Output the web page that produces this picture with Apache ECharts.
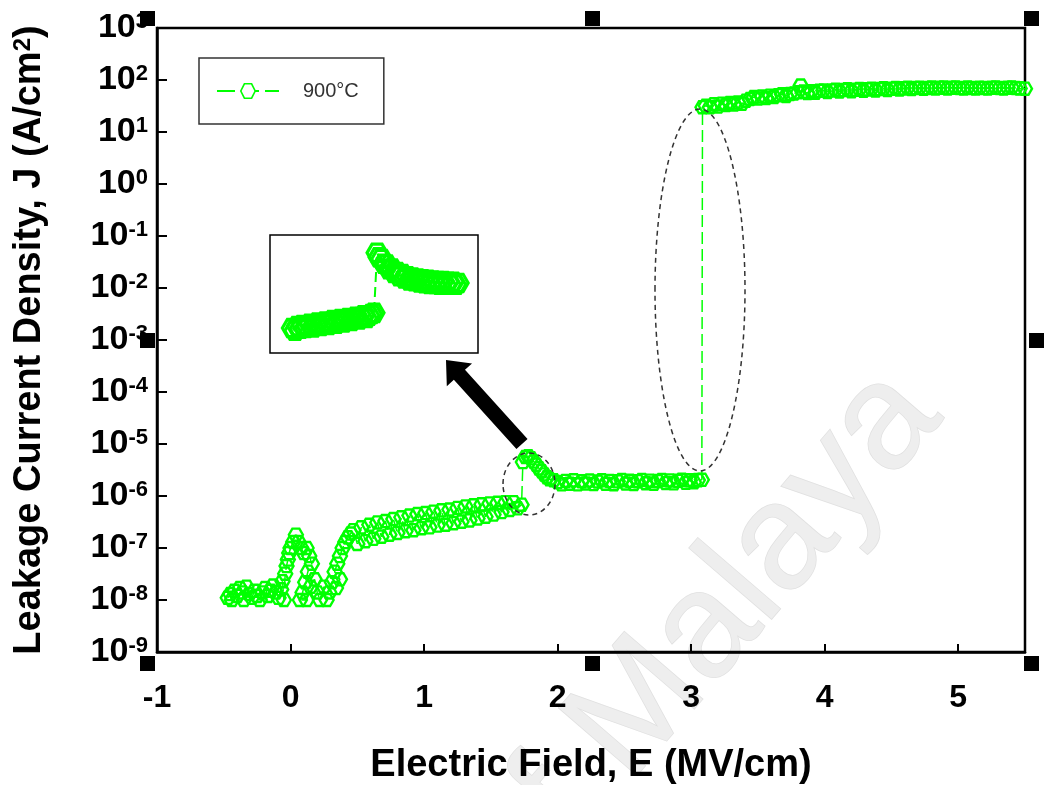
<!DOCTYPE html>
<html>
<head>
<meta charset="utf-8">
<script src="https://cdn.jsdelivr.net/npm/echarts@6/dist/echarts.min.js"></script>
<style>html,body{margin:0;padding:0;background:#fff}#chart{width:1049px;height:785px}</style>
</head>
<body>
<div id="chart"></div>
<script>
// J-E sweep, 900°C anneal. [E (MV/cm), J (A/cm^2)]
const lowCluster = [
  [-0.47,1.1e-8],[-0.45,1.3e-8],[-0.44,1.0e-8],[-0.42,1.5e-8],[-0.40,1.2e-8],[-0.38,1.7e-8],
  [-0.36,1.4e-8],[-0.35,1.0e-8],[-0.33,1.8e-8],[-0.31,1.3e-8],[-0.29,1.1e-8],[-0.27,1.5e-8],
  [-0.25,1.2e-8],[-0.23,1.0e-8],[-0.21,1.4e-8],[-0.19,1.7e-8],[-0.17,1.2e-8],[-0.15,1.5e-8],
  [-0.13,1.9e-8],[-0.11,1.4e-8],[-0.09,1.1e-8],[-0.07,1.6e-8],[-0.06,2.3e-8],[-0.05,1.0e-8],
  [-0.04,3.2e-8],[-0.03,4.5e-8],[-0.02,6.0e-8],[-0.01,8.0e-8],[0.00,1.0e-7],[0.02,1.3e-7],
  [0.04,1.8e-7],[0.06,1.3e-7],[0.08,1.0e-7],[0.10,8.0e-8],[0.12,1.0e-7],[0.14,7.0e-8],
  [0.16,5.0e-8],[0.13,3.5e-8],[0.11,2.2e-8],[0.09,1.4e-8],[0.07,1.0e-8],[0.12,1.0e-8],
  [0.15,1.8e-8],[0.18,2.5e-8],[0.20,1.4e-8],[0.22,1.0e-8],[0.25,1.8e-8],[0.27,1.0e-8],
  [0.29,1.4e-8],[0.31,2.2e-8],[0.34,1.7e-8],[0.37,2.5e-8],[0.33,3.5e-8],[0.35,5.0e-8],
  [0.37,7.0e-8],[0.39,1.0e-7],[0.41,1.3e-7],[0.43,1.6e-7],[0.45,1.9e-7]
];
const riseBand = [
  [0.47,2.2e-7],[0.50,1.2e-7],[0.53,2.5e-7],[0.56,1.35e-7],[0.59,2.8e-7],[0.62,1.5e-7],
  [0.65,3.1e-7],[0.68,1.65e-7],[0.71,3.3e-7],[0.74,1.8e-7],[0.77,3.6e-7],[0.80,1.95e-7],
  [0.83,3.9e-7],[0.86,2.1e-7],[0.89,4.2e-7],[0.92,2.2e-7],[0.95,4.5e-7],[0.98,2.4e-7],
  [1.01,4.7e-7],[1.04,2.5e-7],[1.07,5.0e-7],[1.10,2.7e-7],[1.13,5.3e-7],[1.16,2.8e-7],
  [1.19,5.5e-7],[1.22,3.0e-7],[1.25,5.9e-7],[1.28,3.2e-7],[1.31,6.3e-7],[1.34,3.4e-7],
  [1.37,6.6e-7],[1.40,3.7e-7],[1.43,6.9e-7],[1.46,4.0e-7],[1.49,7.2e-7],[1.52,4.4e-7],
  [1.55,7.4e-7],[1.58,4.9e-7],[1.61,7.6e-7],[1.64,5.4e-7],[1.67,7.6e-7],[1.70,5.8e-7],
  [1.73,6.8e-7]
];
const jumpBand = [
  [1.74,4.5e-6],[1.76,5.6e-6],[1.78,5.8e-6],[1.80,5.3e-6],[1.82,4.6e-6],[1.84,4.0e-6],
  [1.86,3.4e-6],[1.88,3.0e-6],[1.90,2.6e-6],[1.92,2.3e-6],[1.94,2.1e-6],[1.97,2.0e-6]
];
const plateauMid = [
  [2.00,1.85e-6],[2.03,1.68e-6],[2.06,1.95e-6],[2.09,1.72e-6],[2.12,2.0e-6],[2.15,1.68e-6],
  [2.18,1.92e-6],[2.21,1.74e-6],[2.24,1.98e-6],[2.27,1.70e-6],[2.30,1.90e-6],[2.33,2.0e-6],
  [2.36,1.72e-6],[2.39,1.94e-6],[2.42,1.69e-6],[2.45,1.92e-6],[2.48,2.02e-6],[2.51,1.74e-6],
  [2.54,1.96e-6],[2.57,1.71e-6],[2.60,1.93e-6],[2.63,2.03e-6],[2.66,1.76e-6],[2.69,1.97e-6],
  [2.72,1.73e-6],[2.75,1.94e-6],[2.78,2.04e-6],[2.81,1.78e-6],[2.84,1.99e-6],[2.87,1.75e-6],
  [2.90,1.96e-6],[2.93,2.05e-6],[2.96,1.80e-6],[2.99,2.0e-6],[3.02,1.84e-6],[3.05,2.02e-6],
  [3.08,2.05e-6]
];
const topPlateau = [
  [3.085,30],[3.11,32],[3.14,30],[3.17,34],[3.20,31],[3.23,35],[3.26,33],[3.29,36],[3.32,34],
  [3.35,37],[3.38,35],[3.41,40],[3.44,43],[3.47,47],[3.50,44],[3.53,48],[3.56,45],[3.59,50],
  [3.62,47],[3.65,51],[3.68,53],[3.71,49],[3.74,54],[3.77,55],[3.80,58],[3.82,78],[3.84,60],
  [3.87,56],[3.90,61],[3.93,57],[3.96,62],[3.99,63],[4.02,59],[4.05,63],[4.08,65],[4.11,60],
  [4.14,64],[4.17,66],[4.20,61],[4.23,65],[4.26,67],[4.29,62],[4.32,66],[4.35,68],[4.38,63],
  [4.41,67],[4.44,69],[4.47,64],[4.50,68],[4.53,70],[4.56,66],[4.59,69],[4.62,71],[4.65,67],
  [4.68,70],[4.71,71],[4.74,68],[4.77,70],[4.80,72],[4.83,69],[4.86,71],[4.89,72],[4.92,69],
  [4.95,71],[4.98,72],[5.01,70],[5.04,69],[5.07,72],[5.10,70],[5.13,69],[5.16,71],[5.19,70],
  [5.22,69],[5.25,71],[5.28,72],[5.31,70],[5.34,69],[5.37,71],[5.40,72],[5.43,70],[5.46,69],
  [5.50,68]
];
// inset: magnified view of the step near 1.7 MV/cm
const insetLow = [
  [1.38,4.4e-7],[1.39,4.0e-7],[1.40,4.7e-7],[1.41,4.3e-7],[1.42,4.9e-7],[1.43,4.4e-7],
  [1.44,4.6e-7],[1.45,5.1e-7],[1.46,4.5e-7],[1.47,5.0e-7],[1.48,5.3e-7],[1.49,4.7e-7],
  [1.50,5.2e-7],[1.51,5.5e-7],[1.52,4.9e-7],[1.53,5.4e-7],[1.54,5.8e-7],[1.55,5.1e-7],
  [1.56,5.6e-7],[1.57,6.0e-7],[1.58,5.3e-7],[1.59,5.8e-7],[1.60,6.2e-7],[1.61,5.6e-7],
  [1.62,6.1e-7],[1.63,6.5e-7],[1.64,5.9e-7],[1.65,6.4e-7],[1.66,6.8e-7],[1.67,6.2e-7],
  [1.68,6.7e-7],[1.69,7.1e-7],[1.70,7.4e-7]
];
const insetHigh = [
  [1.712,5.8e-6],[1.72,5.0e-6],[1.73,4.7e-6],[1.74,4.0e-6],[1.75,3.9e-6],[1.76,3.3e-6],
  [1.77,3.4e-6],[1.78,2.9e-6],[1.79,3.0e-6],[1.80,2.6e-6],[1.81,2.8e-6],[1.82,2.4e-6],
  [1.83,2.6e-6],[1.84,2.25e-6],[1.85,2.5e-6],[1.86,2.2e-6],[1.87,2.4e-6],[1.88,2.1e-6],
  [1.89,2.35e-6],[1.90,2.05e-6],[1.91,2.3e-6],[1.92,2.0e-6],[1.93,2.25e-6],[1.94,2.0e-6],
  [1.95,2.2e-6],[1.96,1.95e-6],[1.97,2.2e-6],[1.98,1.95e-6],[1.99,2.15e-6],[2.00,1.95e-6],
  [2.01,2.15e-6],[2.02,1.95e-6],[2.03,2.07e-6]
];
const xTicks = { min: -1, max: 5.5, step: 1 };
const yTicks = { min: 1e-9, max: 1e3 };
const seriesName = '900°C';

const FONT = 'Liberation Sans, Arial, sans-serif';
const GREEN = '#00ff00';
const HEX = 'path://M25,0L75,0L100,43.3L75,86.6L25,86.6L0,43.3Z';

function arrowPolygon(tip, tail, headLen, headHalf, shaftHalf) {
  const dx = tail[0] - tip[0], dy = tail[1] - tip[1];
  const len = Math.hypot(dx, dy);
  const ux = dx / len, uy = dy / len, px = -uy, py = ux;
  const bx = tip[0] + ux * headLen, by = tip[1] + uy * headLen;
  return [
    tip,
    [bx + px * headHalf, by + py * headHalf],
    [bx + px * shaftHalf, by + py * shaftHalf],
    [tail[0] + px * shaftHalf, tail[1] + py * shaftHalf],
    [tail[0] - px * shaftHalf, tail[1] - py * shaftHalf],
    [bx - px * shaftHalf, by - py * shaftHalf],
    [bx - px * headHalf, by - py * headHalf]
  ];
}

function handle(x, y) {
  return { type: 'rect', shape: { x: x, y: y, width: 15, height: 15 }, style: { fill: '#000' }, z: 100 };
}

const chart = echarts.init(document.getElementById('chart'));
chart.setOption({
  animation: false,
  backgroundColor: '#fff',
  grid: [
    { left: 157, top: 28, right: 24, bottom: 133, outerBoundsMode: 'none',
      show: true, borderColor: '#000', borderWidth: 2.5 },
    { left: 272, top: 237, width: 204, height: 114, outerBoundsMode: 'none' }
  ],
  legend: {
    data: [seriesName],
    left: 199, top: 58,
    padding: [23, 25, 23, 17],
    borderColor: '#333', borderWidth: 1.5,
    itemWidth: 62, itemHeight: 18,
    itemStyle: { color: '#fff', borderWidth: 1.6 },
    lineStyle: { type: [18, 6] },
    textStyle: { fontSize: 20, color: '#333', fontFamily: FONT, padding: [0, 0, 0, 19] }
  },
  xAxis: [{
    type: 'value', min: xTicks.min, max: xTicks.max, interval: xTicks.step,
    name: 'Electric Field, E (MV/cm)', nameLocation: 'middle', nameGap: 95,
    nameTextStyle: { fontSize: 38, fontWeight: 'bold', color: '#000', fontFamily: FONT },
    axisLine: { onZero: false, lineStyle: { color: '#000', width: 2.5 } },
    axisTick: { inside: true, length: 8, lineStyle: { color: '#000', width: 2 } },
    axisLabel: {
      margin: 30, fontSize: 32, fontWeight: 'bold', color: '#000', fontFamily: FONT,
      formatter: v => Number.isInteger(v) ? String(v) : ''
    },
    splitLine: { show: false }
  }, {
    gridIndex: 1, type: 'value', min: 1.3, max: 2.1, show: false
  }],
  yAxis: [{
    type: 'log', min: yTicks.min, max: yTicks.max, interval: 1,
    name: '{t|Leakage Current Density, J (A/cm}{s|2}{t|)}',
    nameLocation: 'middle', nameGap: 108,
    nameTextStyle: {
      rich: {
        t: { fontSize: 38, fontWeight: 'bold', color: '#000', fontFamily: FONT },
        s: { fontSize: 24, fontWeight: 'bold', color: '#000', fontFamily: FONT, verticalAlign: 'top' }
      }
    },
    axisLine: { onZero: false, lineStyle: { color: '#000', width: 2.5 } },
    axisTick: { inside: true, length: 10, lineStyle: { color: '#000', width: 2 } },
    minorTick: { show: false },
    axisLabel: {
      margin: 9,
      formatter: v => '{b|10}{s|' + Math.round(Math.log10(v)) + '}',
      rich: {
        b: { fontSize: 34, fontWeight: 'bold', color: '#000', fontFamily: FONT },
        s: { fontSize: 22, fontWeight: 'bold', color: '#000', fontFamily: FONT, verticalAlign: 'top' }
      }
    },
    splitLine: { show: false }
  }, {
    gridIndex: 1, type: 'log', min: 2e-7, max: 1e-5, show: false
  }],
  series: [{
    type: 'line', name: seriesName,
    data: [].concat(lowCluster, riseBand, jumpBand, plateauMid, topPlateau),
    symbol: HEX, symbolSize: 14, symbolKeepAspect: true, showAllSymbol: true,
    itemStyle: { color: 'transparent', borderColor: GREEN, borderWidth: 2.4 },
    lineStyle: { color: GREEN, width: 1.5, type: [12, 5] },
    emphasis: { disabled: true }
  }, {
    type: 'line', name: 'inset', xAxisIndex: 1, yAxisIndex: 1,
    data: [].concat(insetLow, insetHigh),
    symbol: HEX, symbolSize: 20, symbolKeepAspect: true, showAllSymbol: true,
    itemStyle: { color: 'transparent', borderColor: GREEN, borderWidth: 3.2 },
    lineStyle: { color: GREEN, width: 2, type: [10, 5] },
    emphasis: { disabled: true }, z: 5
  }],
  graphic: [
    {
      type: 'text', x: 970, y: 440, rotation: 0.86, z: -100, silent: true,
      style: {
        text: 'University of Malaya', font: '150px Liberation Sans', textAlign: 'right',
        verticalAlign: 'bottom', fill: '#eeeeee', stroke: '#e0e0e0', lineWidth: 1.5
      }
    },
    {
      type: 'rect', shape: { x: 270, y: 235, width: 208, height: 118 }, z: 1,
      style: { fill: '#fff', stroke: '#000', lineWidth: 1.5 }
    },
    {
      type: 'ellipse', shape: { cx: 529, cy: 484, rx: 26, ry: 31 }, z: 100,
      style: { fill: 'none', stroke: '#333', lineWidth: 1.5, lineDash: [5, 4] }
    },
    {
      type: 'ellipse', shape: { cx: 700, cy: 290, rx: 45, ry: 181 }, z: 100,
      style: { fill: 'none', stroke: '#333', lineWidth: 1.5, lineDash: [5, 4] }
    },
    {
      type: 'polygon', z: 100,
      shape: { points: arrowPolygon([446, 360], [522, 444], 20, 17, 7.5) },
      style: { fill: '#000' }
    },
    handle(140, 11), handle(585, 11), handle(1024, 11),
    handle(140, 333), handle(1029, 333),
    handle(140, 656), handle(585, 656), handle(1024, 656)
  ]
});
</script>
</body>
</html>
